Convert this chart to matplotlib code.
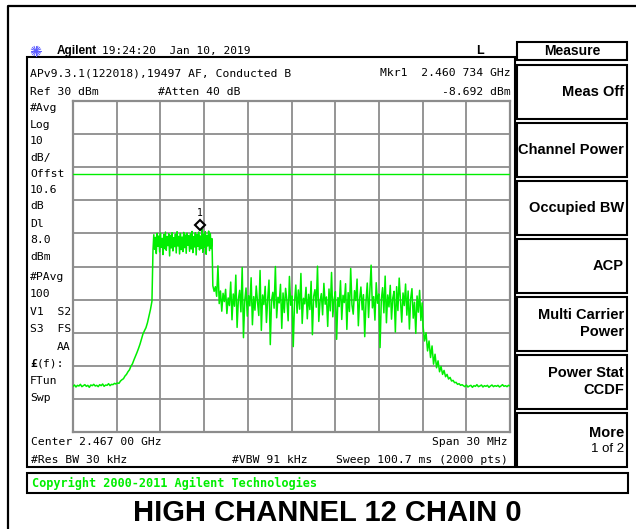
import matplotlib
matplotlib.use('Agg')
import matplotlib.pyplot as plt
import numpy as np
from matplotlib.patches import Rectangle

# sweep settings (GHz / dBm)
f_start, f_stop = 2.452, 2.482
ref_level, bottom_level = 30, -70
display_line = 8.0
mkr_freq, mkr_level = 2.460734, -8.692

# trace, piece by piece: (start GHz, stop GHz, levels dBm)
floor_left = [-56.2, -55.8, -56.4, -55.9, -56.1, -55.6, -56.3, -56.0, -55.7, -56.2,
              -55.9, -56.5, -55.8, -56.0, -55.6, -56.1, -55.9, -56.3, -55.7, -56.0,
              -55.5, -56.2, -55.8, -55.9, -55.4, -56.0, -55.6, -55.7, -55.3, -55.5]
rise = [-55.4, -55.2, -55.3, -54.6, -54.2, -53.9, -53.1, -52.6, -51.8, -51.2,
        -50.1, -49.4, -48.2, -47.1, -46.0, -44.8, -43.5, -42.0, -40.4, -39.4,
        -38.5, -37.0, -35.0, -33.0, -30.5]
block = [-15.2, -10.4, -14.8, -11.2, -16.1, -10.0, -13.9, -10.8, -15.6, -9.9,
         -14.2, -11.5, -16.4, -10.3, -14.6, -9.6, -15.1, -11.0, -13.7, -10.1,
         -16.8, -10.6, -14.4, -9.8, -15.3, -11.3, -14.0, -10.2, -15.9, -9.5,
         -13.8, -10.9, -16.2, -10.0, -14.9, -11.1, -15.5, -9.7, -14.3, -10.5,
         -16.0, -9.9, -13.6, -10.7, -15.4, -10.1, -14.7, -9.4, -15.8, -11.0,
         -14.1, -9.8, -16.5, -10.4, -13.9, -9.6, -15.0, -10.8, -14.5, -8.7,
         -15.7, -10.2, -14.2, -9.5, -16.3, -10.6, -13.8, -9.3, -15.2, -10.0,
         -14.6, -11.6]
noise = [-25.8, -27.5, -26.1, -29.0, -19.8, -31.2, -27.4, -33.5, -28.1, -30.6,
         -26.9, -34.2, -29.5, -31.8, -24.7, -36.1, -28.3, -32.0, -22.6, -38.4,
         -29.9, -27.2, -33.7, -20.3, -41.5, -30.4, -26.5, -35.0, -28.8, -31.9,
         -23.4, -37.6, -29.1, -33.2, -25.9, -30.7, -34.8, -21.2, -39.3, -28.6,
         -31.5, -26.0, -36.9, -29.7, -24.1, -43.6, -30.2, -27.8, -32.6, -20.0,
         -35.5, -29.3, -31.0, -25.4, -38.7, -28.0, -33.9, -26.6, -30.1, -36.4,
         -23.0, -31.7, -28.9, -44.2, -30.8, -25.6, -34.1, -27.1, -32.9, -22.1,
         -37.2, -29.6, -31.3, -26.3, -35.8, -28.4, -33.0, -24.5, -40.6, -29.0,
         -27.0, -32.3, -19.9, -36.6, -30.5, -28.2, -34.6, -25.1, -31.4, -29.2,
         -38.1, -26.8, -33.4, -21.8, -35.2, -30.0, -27.6, -42.0, -29.4, -32.1,
         -24.3, -36.0, -28.7, -30.9, -25.2, -39.0, -27.9, -33.6, -20.6, -31.6,
         -34.4, -27.3, -30.3, -23.8, -37.9, -29.8, -26.2, -33.1, -28.5, -41.2,
         -30.6, -25.0, -35.4, -27.7, -19.6, -32.5, -29.1, -36.2, -24.9, -31.1,
         -28.3, -44.5, -30.0, -26.4, -34.0, -22.9, -37.0, -28.6, -32.2, -25.7,
         -35.9, -29.5, -27.5, -39.8, -26.1, -33.3, -23.5, -30.4, -36.8, -28.0,
         -31.8, -25.3, -34.7, -27.4, -38.9, -29.7, -26.7, -35.6, -30.8, -40.2,
         -28.9, -33.8, -27.2, -36.3, -31.0]
fall = [-38.0, -42.5, -40.0, -45.5, -42.5, -47.5, -44.0, -49.5, -46.5, -50.6,
        -48.5, -51.8, -50.2, -52.6, -51.4, -53.3, -52.6, -54.0, -53.5, -54.6,
        -54.4, -55.1, -55.0, -55.6, -55.4, -55.9, -55.7]
floor_right = [-56.0, -56.3, -55.8, -56.4, -56.1, -55.9, -56.5, -56.0, -56.2, -55.7,
               -56.3, -56.1, -55.8, -56.4, -56.0, -56.2, -55.9, -56.5, -56.1, -55.8,
               -56.3, -56.0, -56.2, -55.9, -56.4, -56.1, -55.7, -56.2, -56.0, -56.3,
               -55.9, -56.1]

pieces = [(2.45200, 2.45495, floor_left),
          (2.45495, 2.45742, rise),
          (2.45749, 2.46154, block),
          (2.46160, 2.47597, noise),
          (2.47603, 2.47871, fall),
          (2.47880, 2.48200, floor_right)]

left_labels = ['#Avg', 'Log', '10', 'dB/', 'Offst', '10.6', 'dB', 'Dl', '8.0', 'dBm',
               '#PAvg', '100', 'V1  S2', 'S3  FS']
left_label_y = [108, 125, 141, 158, 174, 190, 206, 224, 240, 257, 277, 294, 312, 329]

softkeys = [('Meas Off', None), ('Channel Power', None), ('Occupied BW', None),
            ('ACP', None), ('Multi Carrier', 'Power'), ('Power Stat', 'CCDF'),
            ('More', '1 of 2')]

W, H = 636, 529
green = '#00ee00'
mono = 'DejaVu Sans Mono'
sans = 'Liberation Sans'

fig = plt.figure(figsize=(W / 100, H / 100), dpi=100)
bg = fig.add_axes([0, 0, 1, 1])
bg.set_xlim(0, W)
bg.set_ylim(H, 0)
bg.axis('off')


def box(x0, y0, x1, y1, lw=1.5):
    bg.add_patch(Rectangle((x0, y0), x1 - x0, y1 - y0, fill=False, ec='black', lw=lw))


# outer frame (runs off the right and bottom edges)
bg.plot([8, 8, 660], [560, 6, 6], color='black', lw=1.6)

# header
for a in np.arange(0, 180, 22.5):
    r = np.deg2rad(a)
    bg.plot([36 - 5 * np.cos(r), 36 + 5 * np.cos(r)], [51 - 5 * np.sin(r), 51 + 5 * np.sin(r)],
            color='#5a5aff', lw=0.7)
bg.text(57, 51, 'Agilent', fontsize=8.5, fontweight='bold', family=sans, va='center')
bg.text(102, 51, '19:24:20  Jan 10, 2019', fontsize=8.0, family=mono, va='center')
bg.text(480, 51, 'L', fontsize=9, fontweight='bold', family=sans, va='center', ha='center')

# main screen
box(27, 57, 515, 467)
bg.text(30, 73, 'APv9.3.1(122018),19497 AF, Conducted B', fontsize=8.2, family=mono, va='center')
bg.text(30, 92, 'Ref 30 dBm', fontsize=8.2, family=mono, va='center')
bg.text(158, 92, '#Atten 40 dB', fontsize=8.2, family=mono, va='center')
bg.text(511, 73, 'Mkr1  2.460 734 GHz', fontsize=8.2, family=mono, va='center', ha='right')
bg.text(511, 92, '-8.692 dBm', fontsize=8.2, family=mono, va='center', ha='right')
for lab, y in zip(left_labels, left_label_y):
    bg.text(30, y, lab, fontsize=8.2, family=mono, va='center')
bg.text(71, 347, 'AA', fontsize=8.2, family=mono, va='center', ha='right')
bg.text(30, 364, '£', fontsize=8.2, family=mono, fontweight='bold', va='center')
bg.text(37, 364, '(f):', fontsize=8.2, family=mono, va='center')
bg.text(30, 381, 'FTun', fontsize=8.2, family=mono, va='center')
bg.text(30, 398, 'Swp', fontsize=8.2, family=mono, va='center')
bg.text(31, 442, 'Center 2.467 00 GHz', fontsize=8.2, family=mono, va='center')
bg.text(31, 460, '#Res BW 30 kHz', fontsize=8.2, family=mono, va='center')
bg.text(232, 460, '#VBW 91 kHz', fontsize=8.2, family=mono, va='center')
bg.text(508, 442, 'Span 30 MHz', fontsize=8.2, family=mono, va='center', ha='right')
bg.text(508, 460, 'Sweep 100.7 ms (2000 pts)', fontsize=8.2, family=mono, va='center', ha='right')

# softkeys
box(517, 42, 627, 60)
bg.text(572, 51, 'Measure', fontsize=10, fontweight='bold', family=sans, va='center', ha='center')
for i, (l1, l2) in enumerate(softkeys):
    top = 65 + i * 58
    box(517, top, 627, top + 54)
    cy = top + 27
    if l2 is None:
        bg.text(624, cy, l1, fontsize=10.5, fontweight='bold', family=sans, va='center', ha='right')
    elif l1 == 'More':
        bg.text(624, cy - 7, l1, fontsize=10.5, fontweight='bold', family=sans, va='center', ha='right')
        bg.text(624, cy + 9, l2, fontsize=9.5, family=sans, va='center', ha='right')
    else:
        bg.text(624, cy - 9, l1, fontsize=10.5, fontweight='bold', family=sans, va='center', ha='right')
        bg.text(624, cy + 8, l2, fontsize=10.5, fontweight='bold', family=sans, va='center', ha='right')

# copyright strip and title
box(27, 473, 628, 493)
bg.text(32, 483, 'Copyright 2000-2011 Agilent Technologies', fontsize=8.6, fontweight='bold',
        family=mono, color=green, va='center')
bg.text(327, 513, 'HIGH CHANNEL 12 CHAIN 0', fontsize=21, fontweight='bold', family=sans,
        va='center', ha='center')

# trace area
ax = fig.add_axes([73 / W, 1 - 432 / H, 437 / W, 331 / H])
ax.set_xlim(f_start, f_stop)
ax.set_ylim(bottom_level, ref_level)
ax.set_xticks(np.linspace(f_start, f_stop, 11))
ax.set_yticks(np.linspace(bottom_level, ref_level, 11))
ax.tick_params(length=0, labelbottom=False, labelleft=False)
ax.grid(True, color='#8c8c8c', lw=1.3)
for s in ax.spines.values():
    s.set_color('#8c8c8c')
    s.set_linewidth(1.6)
ax.set_facecolor('white')

freqs, levels = [], []
for a, b, vals in pieces:
    freqs.extend(np.linspace(a, b, len(vals)))
    levels.extend(vals)
ax.plot(freqs, levels, color=green, lw=1.1, zorder=3)
ax.axhline(display_line, color=green, lw=1.0, zorder=3)

ax.plot([mkr_freq], [mkr_level + 1.2], marker='D', ms=5.5, mfc='white', mec='black', mew=1.5,
        zorder=5)
ax.annotate('1', xy=(mkr_freq, mkr_level + 1.2), xytext=(0, 9), textcoords='offset points',
            ha='center', va='center', fontsize=7, family=mono, zorder=5)

fig.savefig('out.png', dpi=100)
